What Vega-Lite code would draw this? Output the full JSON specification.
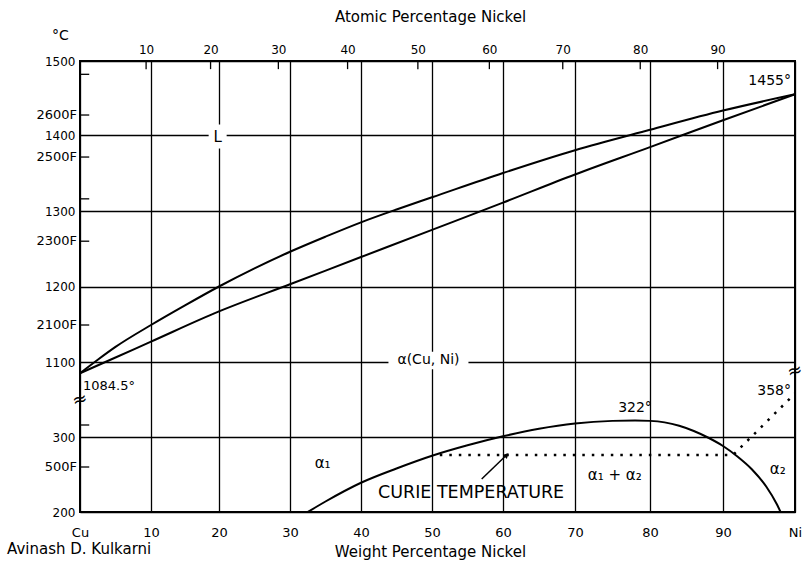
{
  "$schema": "https://vega.github.io/schema/vega-lite/v6.json",
  "width": 715,
  "height": 451,
  "autosize": {"type": "none"},
  "padding": {"left": 80, "top": 61, "right": 10, "bottom": 54},
  "background": "white",
  "config": {
    "view": {"stroke": "black", "strokeWidth": 2},
    "font": "DejaVu Sans",
    "axis": {"labelColor": "black", "titleColor": "black", "labelFont": "DejaVu Sans", "titleFont": "DejaVu Sans", "titleFontWeight": "normal"},
    "text": {"color": "black", "font": "DejaVu Sans"}
  },
  "title": {"text": "Avinash D. Kulkarni", "orient": "bottom", "anchor": "start", "frame": "group", "dx": -73, "offset": -17, "fontSize": 15, "fontWeight": "normal", "color": "black", "font": "DejaVu Sans"},
  "datasets": {
    "liquidus": [
      {"w": 0, "t": 1084.5}, {"w": 2.5, "t": 1103}, {"w": 5, "t": 1120}, {"w": 10, "t": 1149}, {"w": 15, "t": 1175},
      {"w": 20, "t": 1200}, {"w": 25, "t": 1224}, {"w": 30, "t": 1246}, {"w": 35, "t": 1266}, {"w": 40, "t": 1285},
      {"w": 45, "t": 1302}, {"w": 50, "t": 1318}, {"w": 60, "t": 1350}, {"w": 70, "t": 1380}, {"w": 80, "t": 1407},
      {"w": 90, "t": 1433}, {"w": 100, "t": 1455}
    ],
    "solidus": [
      {"w": 0, "t": 1084.5}, {"w": 5, "t": 1106}, {"w": 10, "t": 1127}, {"w": 20, "t": 1167},
      {"w": 30, "t": 1203}, {"w": 40, "t": 1239}, {"w": 50, "t": 1275}, {"w": 60, "t": 1311}, {"w": 70, "t": 1348},
      {"w": 80, "t": 1384}, {"w": 90, "t": 1420}, {"w": 100, "t": 1455}
    ],
    "solvus": [
      {"w": 32.5, "t": 200}, {"w": 35, "t": 214}, {"w": 40, "t": 239}, {"w": 45, "t": 258}, {"w": 50, "t": 275},
      {"w": 55, "t": 289}, {"w": 60, "t": 301}, {"w": 65, "t": 311}, {"w": 70, "t": 318}, {"w": 75, "t": 321.5},
      {"w": 78, "t": 322}, {"w": 80, "t": 321.5}, {"w": 82, "t": 319.5}, {"w": 84, "t": 315}, {"w": 86, "t": 308}, {"w": 88, "t": 299},
      {"w": 90, "t": 288}, {"w": 92, "t": 274}, {"w": 94, "t": 257}, {"w": 96, "t": 234}, {"w": 97.5, "t": 210}, {"w": 98, "t": 200}
    ],
    "curie": [
      {"w": 51.1, "t": 276}, {"w": 91.4, "t": 276}, {"w": 100, "t": 358}
    ],
    "atomic": [
      {"at": 10, "w": 9.31}, {"at": 20, "w": 18.76}, {"at": 30, "w": 28.36}, {"at": 40, "w": 38.11}, {"at": 50, "w": 48.01},
      {"at": 60, "w": 58.08}, {"at": 70, "w": 68.3}, {"at": 80, "w": 78.7}, {"at": 90, "w": 89.26}
    ],
    "fahrenheit": [
      {"f": 2700, "t": 1482, "label": ""}, {"f": 2600, "t": 1427, "label": "2600F"}, {"f": 2500, "t": 1371, "label": "2500F"},
      {"f": 2400, "t": 1316, "label": ""}, {"f": 2300, "t": 1260, "label": "2300F"}, {"f": 2100, "t": 1149, "label": "2100F"},
      {"f": 600, "t": 316, "label": ""}, {"f": 500, "t": 260, "label": "500F"}
    ],
    "regions": [
      {"label": "α₁", "w": 34.6, "t": 265}, {"label": "α₁ + α₂", "w": 75.3, "t": 249}, {"label": "α₂", "w": 97.6, "t": 258}
    ],
    "phase": [{"label": "L", "w": 19.8, "t": 1398}],
    "alpha": [{"label": "α(Cu, Ni)", "w": 49.5, "t": 1102}],
    "curiename": [{"label": "CURIE TEMPERATURE", "w": 55.5, "t": 225}],
    "arrow": [{"w": 57.0, "t": 244, "w2": 60.5, "t2": 276}],
    "breaks": [{"w": 0, "t": 349}, {"w": 100, "t": 1087}],
    "ni_melt": [{"label": "1455°", "w": 100, "t": 1455}],
    "cu_melt": [{"label": "1084.5°", "w": 0, "t": 1084.5}],
    "gap_max": [{"label": "322°", "w": 78, "t": 322}],
    "ni_curie": [{"label": "358°", "w": 100, "t": 358}]
  },
  "resolve": {"axis": {"x": "independent"}},
  "layer": [
    {
      "data": {"name": "liquidus"},
      "mark": {"type": "line", "color": "black", "strokeWidth": 2, "interpolate": "monotone"},
      "encoding": {
        "x": {"field": "w", "type": "quantitative",
          "scale": {"type": "linear", "domain": [0, 10, 20, 30, 40, 50, 60, 70, 80, 90, 100], "range": [0, 71, 139, 210, 281, 352, 423, 495, 570, 643, 715], "zero": false, "nice": false},
          "axis": {"orient": "bottom", "values": [0, 10, 20, 30, 40, 50, 60, 70, 80, 90, 100], "grid": true, "gridColor": "black", "gridWidth": 1.3, "gridOpacity": 1, "ticks": false, "tickSize": 0, "domain": false, "labelPadding": 14, "labelFontSize": 13, "labelFlush": false, "labelExpr": "datum.value == 0 ? 'Cu' : (datum.value == 100 ? 'Ni' : datum.label)", "title": "Weight Percentage Nickel", "titleFontSize": 15, "titlePadding": 5, "titleX": 350}},
        "y": {"field": "t", "type": "quantitative",
          "scale": {"type": "linear", "domain": [200, 300, 380, 1080, 1100, 1200, 1300, 1400, 1500], "range": [451, 376, 316, 315.5, 301, 225.5, 150, 74, 0], "zero": false, "nice": false},
          "axis": {"values": [200, 300, 1100, 1200, 1300, 1400, 1500], "format": "d", "grid": true, "gridColor": "black", "gridWidth": 1.3, "gridOpacity": 1, "ticks": false, "tickSize": 0, "domain": false, "labelPadding": 5, "labelFontSize": 12, "labelFlush": false, "title": "°C", "titleAngle": 0, "titleX": -20, "titleY": -26, "titleAlign": "center", "titleBaseline": "middle", "titleFontSize": 14}}
      }
    },
    {
      "data": {"name": "solidus"},
      "mark": {"type": "line", "color": "black", "strokeWidth": 2, "interpolate": "monotone"},
      "encoding": {
        "x": {"field": "w", "type": "quantitative", "axis": null},
        "y": {"field": "t", "type": "quantitative"}
      }
    },
    {
      "data": {"name": "solvus"},
      "mark": {"type": "line", "color": "black", "strokeWidth": 2, "interpolate": "monotone"},
      "encoding": {
        "x": {"field": "w", "type": "quantitative", "axis": null},
        "y": {"field": "t", "type": "quantitative"}
      }
    },
    {
      "data": {"name": "curie"},
      "mark": {"type": "line", "color": "black", "strokeWidth": 2.5, "strokeDash": [2.5, 7]},
      "encoding": {
        "x": {"field": "w", "type": "quantitative", "axis": null},
        "y": {"field": "t", "type": "quantitative"}
      }
    },
    {
      "data": {"name": "atomic"},
      "mark": {"type": "rule", "color": "black", "strokeWidth": 1.3},
      "encoding": {
        "x": {"field": "w", "type": "quantitative",
          "axis": {"orient": "top", "values": [9.31, 18.76, 28.36, 38.11, 48.01, 58.08, 68.3, 78.7, 89.26], "labelExpr": "format(round(100*(datum.value/58.69)/((datum.value/58.69)+((100-datum.value)/63.55))), 'd')", "grid": false, "ticks": false, "tickSize": 0, "domain": false, "labelPadding": 5, "labelFontSize": 12, "labelFlush": false, "title": "Atomic Percentage Nickel", "titleFontSize": 15, "titlePadding": 19, "titleX": 350}},
        "y": {"datum": 1500, "type": "quantitative"},
        "y2": {"datum": 1489}
      }
    },
    {
      "data": {"name": "fahrenheit"},
      "mark": {"type": "rule", "color": "black", "strokeWidth": 1.3},
      "encoding": {
        "x": {"datum": 0, "type": "quantitative", "axis": null},
        "x2": {"datum": 1.3},
        "y": {"field": "t", "type": "quantitative"}
      }
    },
    {
      "data": {"name": "fahrenheit"},
      "mark": {"type": "text", "align": "right", "baseline": "middle", "dx": -3, "fontSize": 13},
      "encoding": {
        "x": {"datum": 0, "type": "quantitative", "axis": null},
        "y": {"field": "t", "type": "quantitative"},
        "text": {"field": "label"}
      }
    },
    {
      "data": {"name": "phase"},
      "mark": {"type": "point", "shape": "M-0.75,-1H0.75V1H-0.75Z", "size": 576, "filled": true, "color": "white", "opacity": 1},
      "encoding": {
        "x": {"field": "w", "type": "quantitative", "axis": null},
        "y": {"field": "t", "type": "quantitative"}
      }
    },
    {
      "data": {"name": "alpha"},
      "mark": {"type": "point", "shape": "M-1,-0.22H1V0.22H-1Z", "size": 6400, "filled": true, "color": "white", "opacity": 1},
      "encoding": {
        "x": {"field": "w", "type": "quantitative", "axis": null},
        "y": {"field": "t", "type": "quantitative"}
      }
    },
    {
      "data": {"name": "phase"},
      "mark": {"type": "text", "align": "center", "baseline": "middle", "fontSize": 15},
      "encoding": {
        "x": {"field": "w", "type": "quantitative", "axis": null},
        "y": {"field": "t", "type": "quantitative"},
        "text": {"field": "label"}
      }
    },
    {
      "data": {"name": "alpha"},
      "mark": {"type": "text", "align": "center", "baseline": "middle", "fontSize": 14},
      "encoding": {
        "x": {"field": "w", "type": "quantitative", "axis": null},
        "y": {"field": "t", "type": "quantitative"},
        "text": {"field": "label"}
      }
    },
    {
      "data": {"name": "regions"},
      "mark": {"type": "text", "align": "center", "baseline": "middle", "fontSize": 15},
      "encoding": {
        "x": {"field": "w", "type": "quantitative", "axis": null},
        "y": {"field": "t", "type": "quantitative"},
        "text": {"field": "label"}
      }
    },
    {
      "data": {"name": "curiename"},
      "mark": {"type": "text", "align": "center", "baseline": "middle", "fontSize": 17.5},
      "encoding": {
        "x": {"field": "w", "type": "quantitative", "axis": null},
        "y": {"field": "t", "type": "quantitative"},
        "text": {"field": "label"}
      }
    },
    {
      "data": {"name": "arrow"},
      "mark": {"type": "rule", "color": "black", "strokeWidth": 1.5},
      "encoding": {
        "x": {"field": "w", "type": "quantitative", "axis": null},
        "y": {"field": "t", "type": "quantitative"},
        "x2": {"field": "w2"},
        "y2": {"field": "t2"}
      }
    },
    {
      "data": {"name": "arrow"},
      "mark": {"type": "point", "shape": "triangle-up", "angle": 45, "size": 35, "filled": true, "color": "black", "opacity": 1},
      "encoding": {
        "x": {"field": "w2", "type": "quantitative", "axis": null},
        "y": {"field": "t2", "type": "quantitative"}
      }
    },
    {
      "data": {"name": "breaks"},
      "mark": {"type": "text", "align": "center", "baseline": "middle", "fontSize": 18, "angle": -15, "text": "≈"},
      "encoding": {
        "x": {"field": "w", "type": "quantitative", "axis": null},
        "y": {"field": "t", "type": "quantitative"}
      }
    },
    {
      "data": {"name": "ni_melt"},
      "mark": {"type": "text", "align": "right", "baseline": "bottom", "dx": -4, "dy": -6, "fontSize": 14},
      "encoding": {
        "x": {"field": "w", "type": "quantitative", "axis": null},
        "y": {"field": "t", "type": "quantitative"},
        "text": {"field": "label"}
      }
    },
    {
      "data": {"name": "cu_melt"},
      "mark": {"type": "text", "align": "left", "baseline": "top", "dx": 3, "dy": 7, "fontSize": 13},
      "encoding": {
        "x": {"field": "w", "type": "quantitative", "axis": null},
        "y": {"field": "t", "type": "quantitative"},
        "text": {"field": "label"}
      }
    },
    {
      "data": {"name": "gap_max"},
      "mark": {"type": "text", "align": "center", "baseline": "bottom", "dy": -6, "fontSize": 14},
      "encoding": {
        "x": {"field": "w", "type": "quantitative", "axis": null},
        "y": {"field": "t", "type": "quantitative"},
        "text": {"field": "label"}
      }
    },
    {
      "data": {"name": "ni_curie"},
      "mark": {"type": "text", "align": "right", "baseline": "middle", "dx": -4, "dy": -3, "fontSize": 14},
      "encoding": {
        "x": {"field": "w", "type": "quantitative", "axis": null},
        "y": {"field": "t", "type": "quantitative"},
        "text": {"field": "label"}
      }
    }
  ]
}
